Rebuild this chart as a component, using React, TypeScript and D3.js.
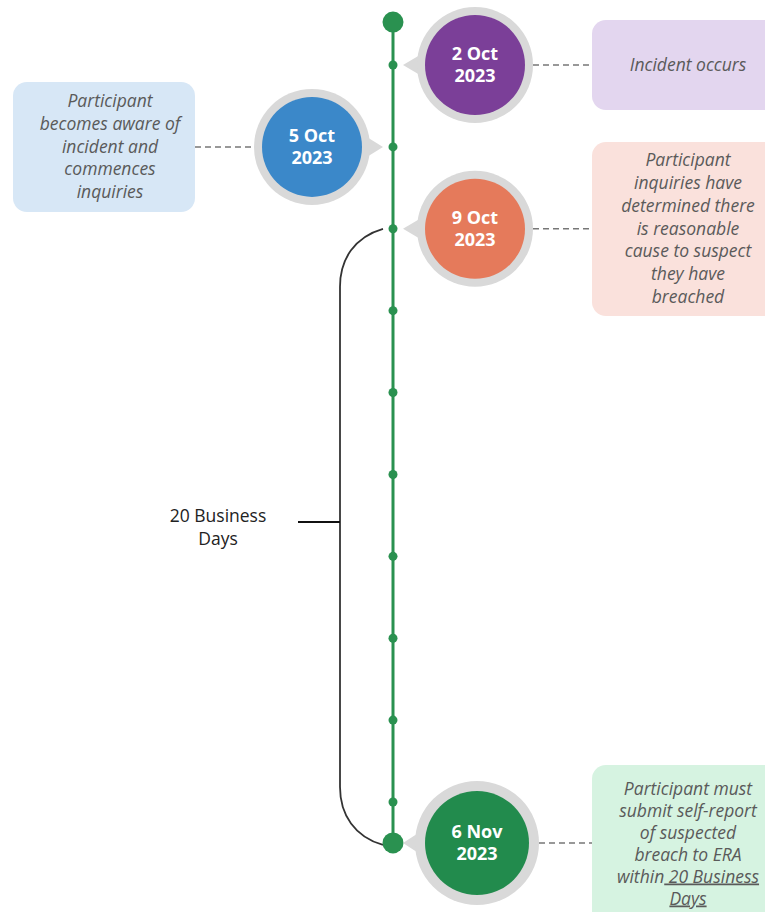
import React from "react";
import * as d3 from "d3";

const W = 765;
const H = 912;

// Business-day markers along the timeline (index positions)
const tickDays = [0, 1, 2, 3, 4, 5, 6, 7, 8, 9];
const startIndex = -0.5;
const endIndex = 9.5;

const eventDates = ["2 Oct", "5 Oct", "9 Oct", "6 Nov"];
const eventYears = ["2023", "2023", "2023", "2023"];
const eventIndex = [0, 1, 2, 9.5];
const eventSide = ["right", "left", "right", "right"];
const eventColors = ["#7b3f98", "#3b88c9", "#e57a5b", "#228b4d"];
const boxColors = ["#e3d6ef", "#d7e7f6", "#fae1dc", "#d6f3e1"];
const eventTexts: string[][] = [
  ["Incident occurs"],
  ["Participant", "becomes aware of", "incident and", "commences", "inquiries"],
  ["Participant", "inquiries have", "determined there", "is reasonable", "cause to suspect", "they have", "breached"],
  ["Participant must", "submit self-report", "of suspected", "breach to ERA", "within 20 Business", "Days"],
];
const bracketLabel = ["20 Business", "Days"];
const bracketFrom = 2;
const bracketTo = 9.5;

export default function App() {
  const lineX = 393;
  const y = d3.scaleLinear().domain([0, 9]).range([65, 802]);
  const font = "'Open Sans', sans-serif";

  const bracketX = 340;
  const yb0 = y(bracketFrom);
  const yb1 = y(bracketTo) + 2;
  const yMid = 522;
  const rC = 58;
  const bracketPath = d3.path();
  bracketPath.moveTo(lineX - 10, yb0);
  bracketPath.bezierCurveTo(bracketX + 15, yb0 + 8, bracketX, yb0 + 30, bracketX, yb0 + rC);
  bracketPath.lineTo(bracketX, yb1 - rC);
  bracketPath.bezierCurveTo(bracketX, yb1 - 30, bracketX + 15, yb1 - 8, lineX - 10, yb1);

  return (
    <svg
      width={W}
      height={H}
      style={{ position: "absolute", left: 0, top: 0, background: "#fff" }}
    >
      {/* bracket */}
      <path d={bracketPath.toString()} fill="none" stroke="#333" strokeWidth={1.8} />
      <line x1={298} x2={bracketX} y1={yMid} y2={yMid} stroke="#111" strokeWidth={2.2} />
      <text
        x={218}
        y={yMid}
        textAnchor="middle"
        fontFamily={font}
        fontSize={17.5}
        fill="#222"
      >
        {bracketLabel.map((l, i) => (
          <tspan key={i} x={218} dy={i === 0 ? 0 : 23}>
            {l}
          </tspan>
        ))}
      </text>

      {/* timeline */}
      <line
        x1={lineX}
        x2={lineX}
        y1={y(startIndex)}
        y2={y(endIndex)}
        stroke="#2a9150"
        strokeWidth={3}
      />
      {tickDays.map((d) => (
        <circle key={d} cx={lineX} cy={y(d)} r={4.5} fill="#2a9150" />
      ))}
      <circle cx={lineX} cy={y(startIndex) - 2} r={10.5} fill="#2a9150" />
      <circle cx={lineX} cy={y(endIndex)} r={10.5} fill="#2a9150" />

      {/* events */}
      {eventDates.map((date, i) => {
        const cy = y(eventIndex[i]);
        const right = eventSide[i] === "right";
        const isLast = i === eventDates.length - 1;
        const rOuter = isLast ? 62 : 58;
        const rInner = isLast ? 52 : 50;
        const cx = right ? (isLast ? 477 : 475) : 312;
        const dir = right ? -1 : 1;
        const tipX = lineX - dir * 10;
        const baseX = cx + dir * (rOuter - 8);
        const lines = eventTexts[i];
        const lh = isLast ? 22 : 22.8;
        // box geometry
        const boxX0 = right ? 592 : 13;
        const boxX1 = right ? 785 : 195;
        const textX = right ? 688 : 110;
        let boxY0: number, boxY1: number;
        if (i === 0) {
          boxY0 = 20;
          boxY1 = 110;
        } else if (i === 1) {
          boxY0 = 82;
          boxY1 = 212;
        } else if (i === 2) {
          boxY0 = 142;
          boxY1 = 316;
        } else {
          boxY0 = 765;
          boxY1 = 930;
        }
        const textCenter = i === 3 ? 844 : (boxY0 + boxY1) / 2;
        const firstBaseline = textCenter - ((lines.length - 1) * lh) / 2 + 5.5;
        const dashX0 = right ? cx + rOuter : boxX1;
        const dashX1 = right ? boxX0 : cx - rOuter;
        return (
          <g key={i}>
            <line
              x1={dashX0}
              x2={dashX1}
              y1={cy}
              y2={cy}
              stroke="#777"
              strokeWidth={1.5}
              strokeDasharray="6,4"
            />
            <rect
              x={boxX0}
              y={boxY0}
              width={boxX1 - boxX0}
              height={boxY1 - boxY0}
              rx={14}
              fill={boxColors[i]}
            />
            <text
              textAnchor="middle"
              fontFamily={font}
              fontStyle="italic"
              fontSize={17.5}
              fill="#5a5a5a"
            >
              {lines.map((l, j) => {
                if (i === 3 && l.startsWith("within")) {
                  return (
                    <tspan key={j} x={textX} y={firstBaseline + j * lh}>
                      within
                      <tspan textDecoration="underline"> 20 Business</tspan>
                    </tspan>
                  );
                }
                return (
                  <tspan
                    key={j}
                    x={textX}
                    y={firstBaseline + j * lh}
                    textDecoration={i === 3 && l === "Days" ? "underline" : undefined}
                  >
                    {l}
                  </tspan>
                );
              })}
            </text>
            <path
              d={`M${tipX},${cy} L${baseX},${cy - 13} L${baseX},${cy + 13} Z`}
              fill="#d9d9d9"
            />
            <circle cx={cx} cy={cy} r={rOuter} fill="#d9d9d9" />
            <circle cx={cx} cy={cy} r={rInner} fill={eventColors[i]} />
            <text
              x={cx}
              y={cy - 5}
              textAnchor="middle"
              fontFamily={font}
              fontWeight="bold"
              fontSize={18}
              fill="#fff"
            >
              {date}
            </text>
            <text
              x={cx}
              y={cy + 17}
              textAnchor="middle"
              fontFamily={font}
              fontWeight="bold"
              fontSize={18}
              fill="#fff"
            >
              {eventYears[i]}
            </text>
          </g>
        );
      })}
    </svg>
  );
}
